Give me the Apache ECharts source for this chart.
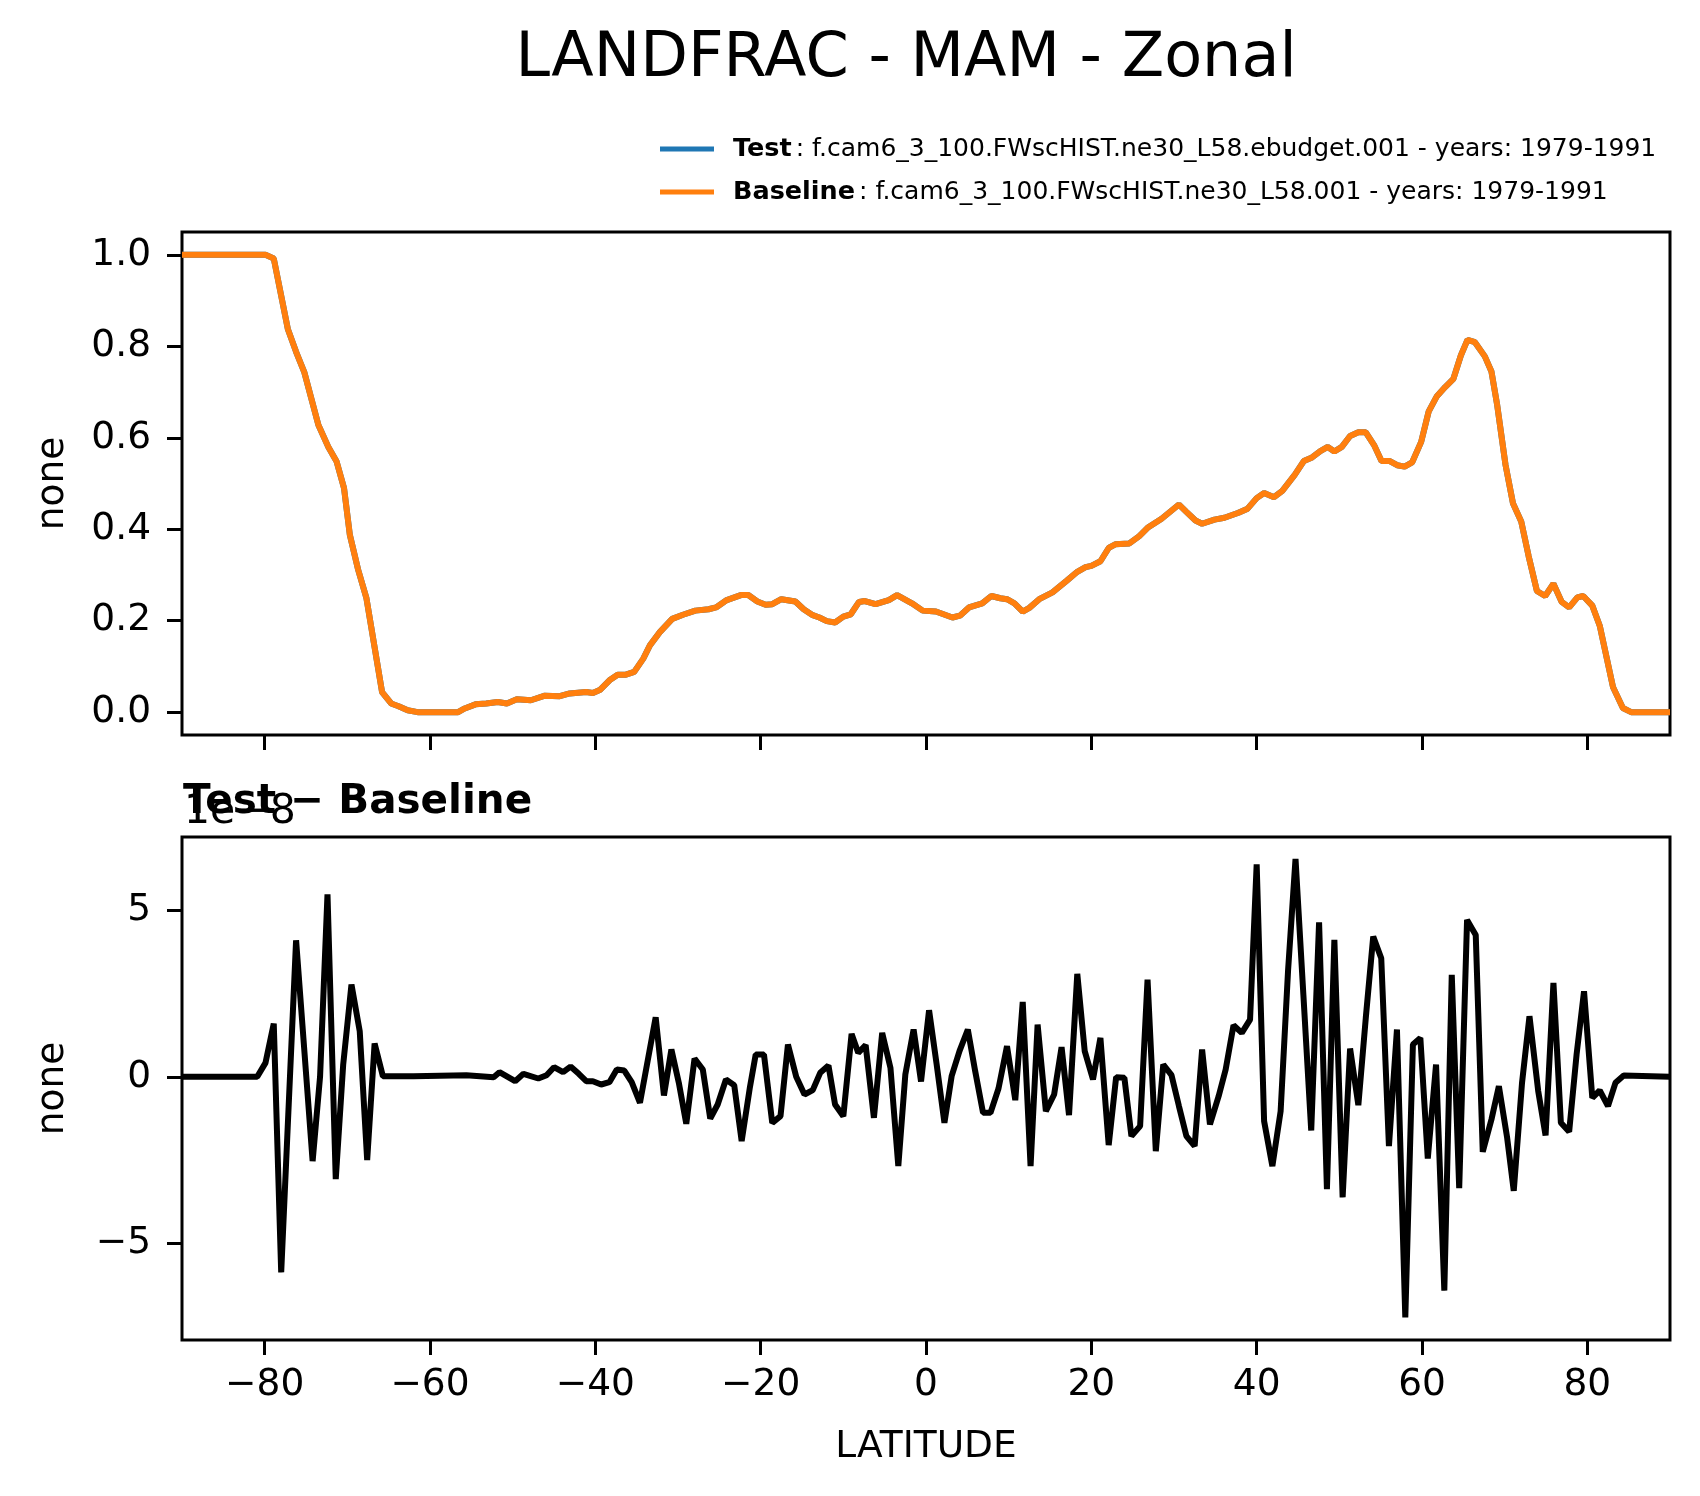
<!DOCTYPE html>
<html>
<head>
<meta charset="utf-8">
<title>LANDFRAC - MAM - Zonal</title>
<script src="https://cdn.jsdelivr.net/npm/echarts@6/dist/echarts.min.js"></script>
<style>
  html, body { margin: 0; padding: 0; background: #fff; }
  #chart { width: 1700px; height: 1496px; }
</style>
</head>
<body>
<div id="chart"></div>
<script>
// zonal mean land fraction (baseline)
var baseLat = [-90, -79.9, -78.9, -77.2, -76.2, -75.2, -73.5, -72.3, -71.3, -70.4, -69.7, -68.7, -67.7,
    -65.8, -64.7, -63.8, -62.7, -61.5, -56.6, -55.8, -54.5, -53.2, -51.8, -50.7, -49.5, -47.8, -46.1,
    -44.3, -43.1, -41.1, -40.3, -39.4, -38.2, -37.3, -36.3, -35.3, -34.2, -33.4, -32.2, -30.7, -29.4,
    -27.9, -26.3, -25.4, -24.1, -22.4, -21.5, -20.4, -19.4, -18.6, -17.5, -15.8, -14.8, -13.7, -12.9,
    -12.0, -11.0, -10.0, -9.1, -8.1, -7.4, -6.1, -4.5, -3.5, -1.7, -0.4, 1.2, 3.2, 4.1, 5.2, 6.8, 7.9,
    9.0, 9.8, 10.7, 11.7, 12.5, 13.7, 15.3, 17.0, 18.3, 19.3, 20.0, 21.1, 22.1, 22.9, 24.6, 25.8, 26.8,
    28.5, 30.6, 31.5, 32.6, 33.4, 34.9, 36.1, 37.8, 38.9, 40.0, 40.9, 42.1, 43.1, 44.6, 45.7, 46.7, 47.7,
    48.6, 49.4, 50.3, 51.3, 52.3, 53.2, 54.2, 55.1, 56.1, 57.0, 57.9, 58.8, 59.9, 60.8, 61.8, 62.8, 63.8,
    64.7, 65.5, 66.4, 67.6, 68.4, 69.1, 70.1, 71.0, 72.0, 72.9, 73.9, 74.9, 75.9, 76.9, 77.8, 78.8, 79.5,
    80.6, 81.5, 83.1, 84.3, 85.3, 90];
var baseVal = [1.0, 1.0, 0.992, 0.838, 0.788, 0.743, 0.628, 0.58, 0.548, 0.49, 0.388, 0.312, 0.25,
    0.044, 0.019, 0.013, 0.004, 0.0, 0.0, 0.008, 0.017, 0.019, 0.022, 0.019, 0.028, 0.026, 0.036,
    0.035, 0.041, 0.044, 0.042, 0.049, 0.071, 0.082, 0.082, 0.088, 0.117, 0.146, 0.175, 0.204, 0.213,
    0.222, 0.225, 0.229, 0.245, 0.256, 0.256, 0.242, 0.235, 0.236, 0.247, 0.242, 0.225, 0.212, 0.207,
    0.199, 0.196, 0.209, 0.214, 0.241, 0.243, 0.236, 0.245, 0.256, 0.238, 0.222, 0.22, 0.207, 0.211, 0.229, 0.238, 0.254,
    0.249, 0.247, 0.238, 0.22, 0.228, 0.247, 0.262, 0.287, 0.307, 0.317, 0.32, 0.33, 0.359, 0.367, 0.369, 0.385, 0.403,
    0.423, 0.454, 0.438, 0.419, 0.412, 0.421, 0.425, 0.436, 0.445, 0.468, 0.479, 0.47, 0.484, 0.519, 0.549, 0.557, 0.571,
    0.58, 0.57, 0.58, 0.604, 0.612, 0.612, 0.584, 0.549, 0.549, 0.54, 0.537, 0.546, 0.591, 0.657, 0.691, 0.711, 0.729,
    0.78, 0.814, 0.809, 0.778, 0.745, 0.671, 0.541, 0.457, 0.417, 0.341, 0.265, 0.254, 0.281, 0.241, 0.229, 0.251, 0.254,
    0.233, 0.189, 0.055, 0.009, 0.0, 0.0];

// test - baseline, in units of 1e-8
var diffLat = [-90, -80.9, -79.9, -78.9, -78.0, -76.2, -74.2, -73.3, -72.4, -71.4, -70.5, -69.5, -68.5,
    -67.6, -66.7, -65.7, -62.0, -55.6, -52.3, -51.6, -49.7, -48.7, -46.9, -45.9, -45.0, -43.9, -43.0,
    -42.0, -41.1, -40.3, -39.3, -38.3, -37.4, -36.5, -35.6, -34.6, -32.7, -31.7, -30.8, -29.9, -29.0,
    -28.0, -27.0, -26.1, -25.2, -24.2, -23.2, -22.3, -21.3, -20.6, -19.6, -18.6, -17.6, -16.7, -15.7,
    -14.7, -13.7, -12.8, -11.8, -11.0, -10.0, -9.0, -8.2, -7.3, -6.3, -5.3, -4.3, -3.35, -2.5, -1.5,
    -0.6, 0.37, 1.3, 2.23, 3.1, 4.05, 5.06, 5.95, 6.9, 7.8, 8.77, 9.8, 10.8, 11.7, 12.65, 13.5, 14.5,
    15.5, 16.4, 17.3, 18.3, 19.2, 20.2, 21.1, 22.1, 23.0, 24.0, 24.85, 25.9, 26.8, 27.8, 28.7, 29.7,
    30.6, 31.5, 32.5, 33.4, 34.35, 35.4, 36.25, 37.2, 38.2, 39.2, 40.0, 40.9, 41.9, 42.9, 43.8, 44.7,
    45.65, 46.6, 47.55, 48.5, 49.4, 50.4, 51.3, 52.3, 53.2, 54.1, 55.07, 56.0, 56.97, 57.98, 58.9,
    59.8, 60.7, 61.7, 62.7, 63.6, 64.5, 65.45, 66.5, 67.35, 68.4, 69.3, 70.3, 71.1, 72.1, 73.0, 74.06,
    74.95, 75.9, 76.8, 77.8, 78.7, 79.6, 80.6, 81.5, 82.5, 83.4, 84.4, 90];
var diffVal = [0, 0, 0.42, 1.6, -5.87, 4.1, -2.53, 0.0, 5.48, -3.07, 0.37, 2.77, 1.37,
    -2.5, 1.0, 0.02, 0.02, 0.05, -0.01, 0.14, -0.13, 0.09, -0.05, 0.05, 0.29, 0.14, 0.31,
    0.09, -0.13, -0.13, -0.23, -0.16, 0.22, 0.19, -0.16, -0.78, 1.79, -0.56, 0.82, -0.18, -1.41,
    0.55, 0.22, -1.25, -0.83, -0.08, -0.25, -1.93, -0.31, 0.67, 0.67, -1.38, -1.18, 0.97, 0.0,
    -0.53, -0.4, 0.12, 0.34, -0.83, -1.18, 1.29, 0.72, 0.95, -1.23, 1.32, 0.27, -2.68, 0.07, 1.42,
    -0.14, 2.0, 0.35, -1.38, 0.02, 0.77, 1.42, 0.17, -1.08, -1.08, -0.35, 0.92, -0.7, 2.25, -2.68, 1.57, -1.03,
    -0.53, 0.89, -1.15, 3.09, 0.77, -0.08, 1.17, -2.05, -0.01, -0.03, -1.78, -1.48, 2.92, -2.23, 0.37, 0.05,
    -0.88, -1.78, -2.08, 0.82, -1.43, -0.58, 0.22, 1.55, 1.32, 1.72, 6.38, -1.33, -2.68, -1.03, 3.2, 6.54,
    2.47, -1.61, 4.64, -3.37, 4.11, -3.62, 0.85, -0.85, 1.77, 4.21, 3.56, -2.08, 1.42, -7.22, 0.97,
    1.17, -2.45, 0.37, -6.42, 3.06, -3.34, 4.71, 4.26, -2.25, -1.28, -0.28, -1.83, -3.42, -0.18, 1.82, -0.43,
    -1.76, 2.82, -1.38, -1.65, 0.67, 2.57, -0.63, -0.41, -0.88, -0.18, 0.04, 0];

var latTicks = [-80, -60, -40, -20, 0, 20, 40, 60, 80];
var topTicks = [0, 0.2, 0.4, 0.6, 0.8, 1.0];
var diffTicks = [-5, 0, 5];

var caseNames = {
    Test: 'f.cam6_3_100.FWscHIST.ne30_L58.ebudget.001 - years: 1979-1991',
    Baseline: 'f.cam6_3_100.FWscHIST.ne30_L58.001 - years: 1979-1991'
};

function pairs(xs, ys) {
    return xs.map(function (x, i) { return [x, ys[i]]; });
}
var baseData = pairs(baseLat, baseVal);
// the test run is identical to the baseline at this scale (differences ~1e-8)
var testData = baseData;
var diffData = pairs(diffLat, diffVal);

var font = 'DejaVu Sans';
var minus = function (v) { return String(v).replace('-', '\u2212'); };

function xAxisOpt(idx, withLabels) {
    return {
        type: 'value', gridIndex: idx, min: -90, max: 90,
        axisLine: { show: false, onZero: false },
        axisTick: { show: true, inside: false, length: 15, customValues: latTicks,
            lineStyle: { color: '#000', width: 3 } },
        axisLabel: { show: withLabels, customValues: latTicks, margin: 26,
            fontFamily: font, fontSize: 37.5, color: '#000', formatter: minus },
        splitLine: { show: false },
        name: withLabels ? 'LATITUDE' : '', nameLocation: 'middle', nameGap: 88,
        nameTextStyle: { fontFamily: font, fontSize: 37.5, color: '#000' }
    };
}
function yAxisOpt(idx, min, max, ticks, fmt) {
    return {
        type: 'value', gridIndex: idx, min: min, max: max,
        axisLine: { show: false, onZero: false },
        axisTick: { show: true, inside: false, length: 15, customValues: ticks,
            lineStyle: { color: '#000', width: 3 } },
        axisLabel: { customValues: ticks, margin: 31,
            fontFamily: font, fontSize: 37.5, color: '#000', formatter: fmt },
        splitLine: { show: false },
        name: 'none', nameLocation: 'middle', nameRotate: 90, nameGap: 110,
        nameTextStyle: { fontFamily: font, fontSize: 37.5, color: '#000' }
    };
}

var myChart = echarts.init(document.getElementById('chart'));
var option = {
    animation: false,
    backgroundColor: '#fff',
    textStyle: { fontFamily: font },
    title: [
        { text: 'LANDFRAC - MAM - Zonal', left: 906, top: 29, textAlign: 'center', padding: 0,
          textStyle: { fontFamily: font, fontSize: 62, fontWeight: 'normal', color: '#000' } },
        { text: '1e\u22128', left: 184, top: 792, padding: 0,
          textStyle: { fontFamily: font, fontSize: 41, fontWeight: 'normal', color: '#000' } },
        { text: 'Test \u2212 Baseline', left: 183, top: 782, padding: 0,
          textStyle: { fontFamily: font, fontSize: 40.5, fontWeight: 'bold', color: '#000' } }
    ],
    legend: {
        data: ['Test', 'Baseline'],
        orient: 'vertical', left: 660, top: 136, padding: 0,
        itemGap: 17, itemWidth: 54, itemHeight: 5, icon: 'rect',
        selectedMode: false,
        formatter: function (name) { return '{b|' + name + '}{n|: ' + caseNames[name] + '}'; },
        textStyle: {
            fontFamily: font, fontSize: 25, color: '#000',
            rich: {
                b: { fontFamily: font, fontSize: 25.5, fontWeight: 'bold', color: '#000', padding: [0, 4, 0, 14] },
                n: { fontFamily: font, fontSize: 25, color: '#000' }
            }
        }
    },
    grid: [
        { left: 182, top: 232, width: 1488, height: 503, show: true, borderColor: '#000', borderWidth: 3 },
        { left: 182, top: 837, width: 1488, height: 503, show: true, borderColor: '#000', borderWidth: 3 }
    ],
    xAxis: [xAxisOpt(0, false), xAxisOpt(1, true)],
    yAxis: [
        yAxisOpt(0, -0.05, 1.05, topTicks, function (v) { return v.toFixed(1); }),
        yAxisOpt(1, -7.9, 7.2, diffTicks, minus)
    ],
    series: [
        { name: 'Test', type: 'line', xAxisIndex: 0, yAxisIndex: 0, data: testData,
          showSymbol: false, color: '#1f77b4', lineStyle: { width: 6, color: '#1f77b4' } },
        { name: 'Baseline', type: 'line', xAxisIndex: 0, yAxisIndex: 0, data: baseData,
          showSymbol: false, color: '#ff7f0e', lineStyle: { width: 6, color: '#ff7f0e' } },
        { name: 'Diff', type: 'line', xAxisIndex: 1, yAxisIndex: 1, data: diffData,
          showSymbol: false, color: '#000', lineStyle: { width: 6, color: '#000' } }
    ]
};
myChart.setOption(option, true);
</script>
</body>
</html>
